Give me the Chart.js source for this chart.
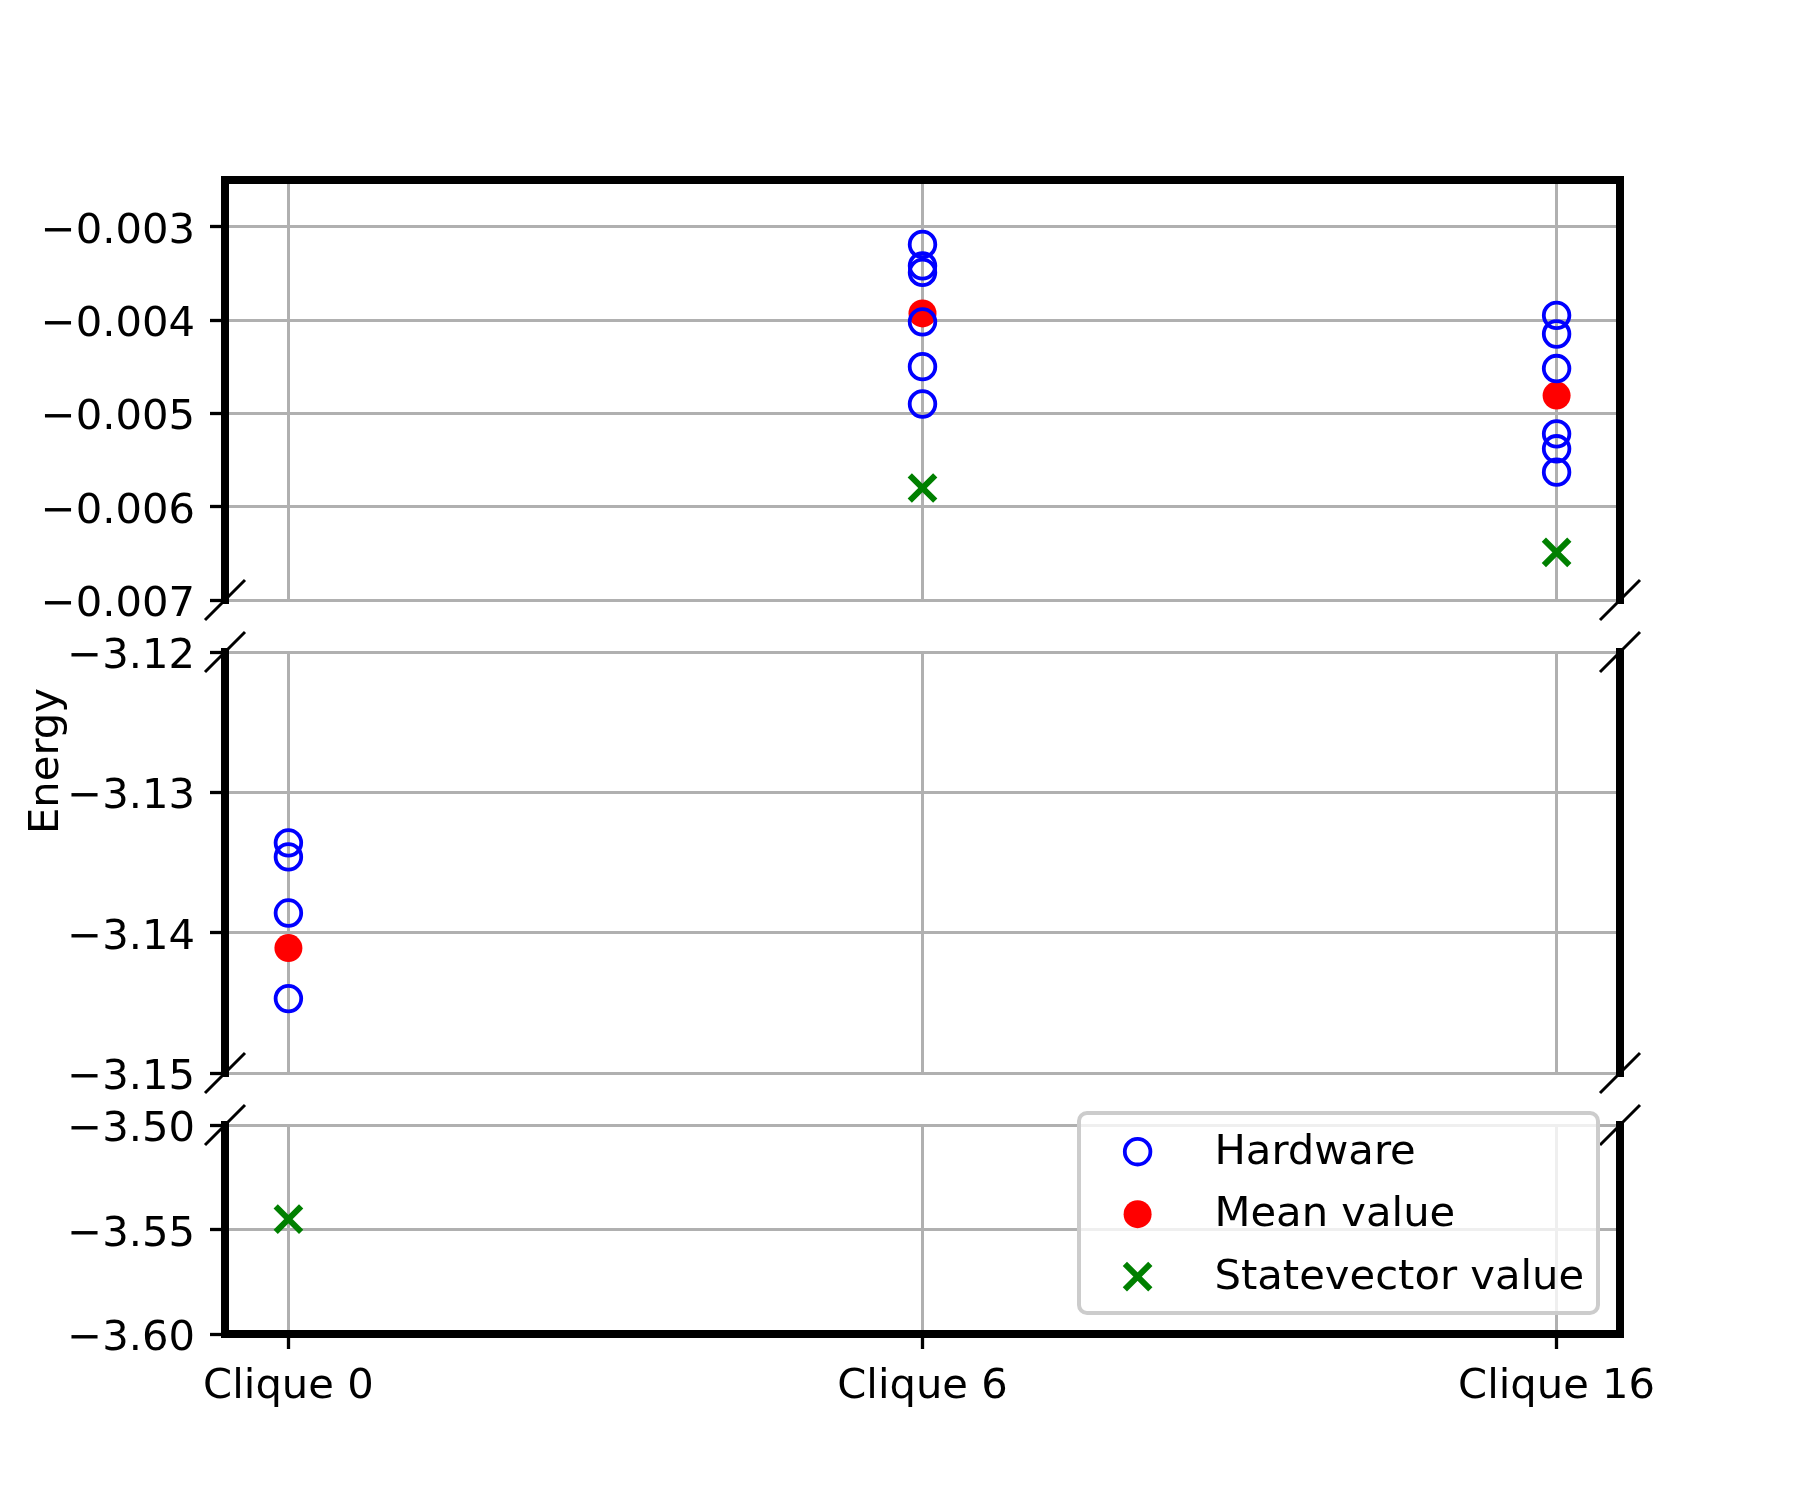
<!DOCTYPE html>
<html lang="en">
<head>
<meta charset="UTF-8">
<title>Energy per clique (broken axis)</title>
<script src="https://cdn.jsdelivr.net/npm/chart.js"></script>
<style>
  body { margin: 0; background: #fff; }
  #wrap { position: relative; width: 1800px; height: 1500px; }
  #wrap canvas { position: absolute; left: 0; top: 0; }
</style>
</head>
<body>
<div id="wrap">
  <canvas id="topChart" width="1800" height="1500"></canvas>
  <canvas id="midChart" width="1800" height="1500"></canvas>
  <canvas id="botChart" width="1800" height="1500"></canvas>
</div>
<script>
// x categories
const cliques = ['Clique 0', 'Clique 6', 'Clique 16'];

// hardware runs, one list per clique
const hardwareClique0 = [-3.1336, -3.1346, -3.1386, -3.1447];
const hardwareClique6 = [-0.00319, -0.00342, -0.00349, -0.00402, -0.00450, -0.00490];
const hardwareClique16 = [-0.00395, -0.00415, -0.00452, -0.00522, -0.00538, -0.00563];

// one value per clique
const meanValues = [-3.1411, -0.00393, -0.00481];
const statevectorValues = [-3.545, -0.00580, -0.00649];

// y ticks of the three panels
const topTicks = [-0.007, -0.006, -0.005, -0.004, -0.003];
const midTicks = [-3.15, -3.14, -3.13, -3.12];
const botTicks = [-3.60, -3.55, -3.50];

const hardwarePts = [hardwareClique0, hardwareClique6, hardwareClique16]
    .flatMap((vals, i) => vals.map(v => ({ x: i, y: v })));
const meanPts = meanValues.map((v, i) => ({ x: i, y: v }));
const statevectorPts = statevectorValues.map((v, i) => ({ x: i, y: v }));

const FONT = '41.7px "DejaVu Sans"';
Chart.defaults.font.family = 'DejaVu Sans';
Chart.defaults.font.size = 41.7;
Chart.defaults.color = 'black';

const GRID = '#b0b0b0';
const W = 1800, H = 1500;

// panels top to bottom: axis limits, ticks and where the plot box sits
const panels = [
    { id: 'topChart', min: -0.007, max: -0.0025, ticks: topTicks, dec: 3, top: 180, bottom: 600, spineTop: true, spineBottom: false },
    { id: 'midChart', min: -3.15, max: -3.12, ticks: midTicks, dec: 2, top: 652, bottom: 1073, spineTop: false, spineBottom: false, ylabel: 'Energy' },
    { id: 'botChart', min: -3.60, max: -3.50, ticks: botTicks, dec: 2, top: 1125, bottom: 1334, spineTop: false, spineBottom: true, legend: true }
];

function drawMarker(ctx, ds, x, y) {
    ctx.lineWidth = ds.pointBorderWidth;
    ctx.strokeStyle = ds.pointBorderColor;
    ctx.fillStyle = ds.pointBackgroundColor;
    ctx.beginPath();
    if (ds.pointStyle === 'crossRot') {
        const r = ds.pointRadius * Math.SQRT1_2;
        ctx.moveTo(x - r, y - r); ctx.lineTo(x + r, y + r);
        ctx.moveTo(x - r, y + r); ctx.lineTo(x + r, y - r);
        ctx.stroke();
    } else {
        ctx.arc(x, y, ds.pointRadius, 0, Math.PI * 2);
        ctx.fill();
        if (ds.pointBorderWidth) ctx.stroke();
    }
}

function framePlugin(p) {
    const fmt = v => (v < 0 ? '\u2212' : '') + Math.abs(v).toFixed(p.dec);
    return {
        id: 'frame',
        afterDraw(chart) {
            const { ctx, chartArea: a } = chart;
            ctx.save();

            // y tick labels, set on the digit centre like matplotlib does
            const ys = chart.scales.y;
            ctx.font = FONT;
            ctx.fillStyle = 'black';
            ctx.textAlign = 'right';
            ctx.textBaseline = 'alphabetic';
            ys.ticks.forEach(t => {
                ctx.fillText(fmt(t.value), a.left - 30, ys.getPixelForValue(t.value) + 16);
            });

            // spines
            ctx.strokeStyle = 'black';
            ctx.lineWidth = 8;
            ctx.lineCap = 'square';
            ctx.beginPath();
            ctx.moveTo(a.left, a.top); ctx.lineTo(a.left, a.bottom);
            ctx.moveTo(a.right, a.top); ctx.lineTo(a.right, a.bottom);
            if (p.spineTop) { ctx.moveTo(a.left, a.top); ctx.lineTo(a.right, a.top); }
            if (p.spineBottom) { ctx.moveTo(a.left, a.bottom); ctx.lineTo(a.right, a.bottom); }
            ctx.stroke();

            // break marks
            ctx.lineWidth = 3;
            ctx.lineCap = 'butt';
            const d = 20;
            const breaks = [];
            if (!p.spineTop) breaks.push(a.top);
            if (!p.spineBottom) breaks.push(a.bottom);
            ctx.beginPath();
            breaks.forEach(y => [a.left, a.right].forEach(x => {
                ctx.moveTo(x - d, y + d); ctx.lineTo(x + d, y - d);
            }));
            ctx.stroke();

            // y label for the whole figure
            if (p.ylabel) {
                ctx.save();
                ctx.translate(58, 761);
                ctx.rotate(-Math.PI / 2);
                ctx.font = FONT;
                ctx.fillStyle = 'black';
                ctx.textAlign = 'center';
                ctx.textBaseline = 'alphabetic';
                ctx.fillText(p.ylabel, 0, 0);
                ctx.restore();
            }

            // legend box in the lower right
            if (p.legend) {
                const bw = 519, bh = 200;
                const bx = a.right - 22 - bw, by = a.bottom - 21 - bh;
                ctx.beginPath();
                ctx.roundRect(bx, by, bw, bh, 8);
                ctx.fillStyle = 'rgba(255,255,255,0.8)';
                ctx.fill();
                ctx.lineWidth = 4;
                ctx.strokeStyle = '#cccccc';
                ctx.stroke();
                chart.data.datasets.forEach((ds, i) => {
                    const y = by + 38.7 + i * 62.5;
                    drawMarker(ctx, ds, bx + 58.6, y);
                    ctx.font = FONT;
                    ctx.fillStyle = 'black';
                    ctx.textAlign = 'left';
                    ctx.textBaseline = 'alphabetic';
                    ctx.fillText(ds.label, bx + 135.5, y + 12);
                });
            }
            ctx.restore();
        }
    };
}

function makeChart(p) {
    const inRange = pt => pt.y >= p.min && pt.y <= p.max;
    return new Chart(document.getElementById(p.id), {
        type: 'scatter',
        data: {
            datasets: [
                {
                    label: 'Hardware',
                    data: hardwarePts.filter(inRange),
                    pointStyle: 'circle',
                    pointRadius: 12.8,
                    pointBorderWidth: 3.8,
                    pointBorderColor: 'blue',
                    pointBackgroundColor: 'rgba(0,0,0,0)'
                },
                {
                    label: 'Mean value',
                    data: meanPts.filter(inRange),
                    pointStyle: 'circle',
                    pointRadius: 14,
                    pointBorderWidth: 0,
                    pointBorderColor: 'red',
                    pointBackgroundColor: 'red'
                },
                {
                    label: 'Statevector value',
                    data: statevectorPts.filter(inRange),
                    pointStyle: 'crossRot',
                    pointRadius: 18,
                    pointBorderWidth: 6,
                    pointBorderColor: 'green',
                    pointBackgroundColor: 'green'
                }
            ]
        },
        options: {
            responsive: false,
            animation: false,
            devicePixelRatio: 1,
            events: [],
            layout: {
                padding: { left: 0, right: W - 1620, top: p.top, bottom: p.legend ? 0 : H - p.bottom }
            },
            plugins: {
                legend: { display: false },
                tooltip: { enabled: false }
            },
            scales: {
                x: {
                    type: 'linear',
                    min: -0.1,
                    max: 2.1,
                    bounds: 'data',
                    z: 1,
                    afterBuildTicks: s => { s.ticks = cliques.map((c, i) => ({ value: i })); },
                    afterFit: s => { s.height = p.legend ? H - p.bottom : 0; },
                    border: { display: false },
                    grid: { color: GRID, lineWidth: 3, drawTicks: !!p.legend, tickLength: 15, tickColor: 'black', tickWidth: 3.3 },
                    ticks: { display: !!p.legend, padding: 13, maxRotation: 0, callback: v => cliques[v] }
                },
                y: {
                    type: 'linear',
                    min: p.min,
                    max: p.max,
                    bounds: 'data',
                    z: 1,
                    afterBuildTicks: s => { s.ticks = p.ticks.map(v => ({ value: v })); },
                    afterFit: s => { s.width = 225; },
                    border: { display: false },
                    grid: { color: GRID, lineWidth: 3, tickLength: 15, tickColor: 'black', tickWidth: 3.3 },
                    ticks: { display: false }
                }
            }
        },
        plugins: [framePlugin(p)]
    });
}

panels.forEach(makeChart);
</script>
</body>
</html>
